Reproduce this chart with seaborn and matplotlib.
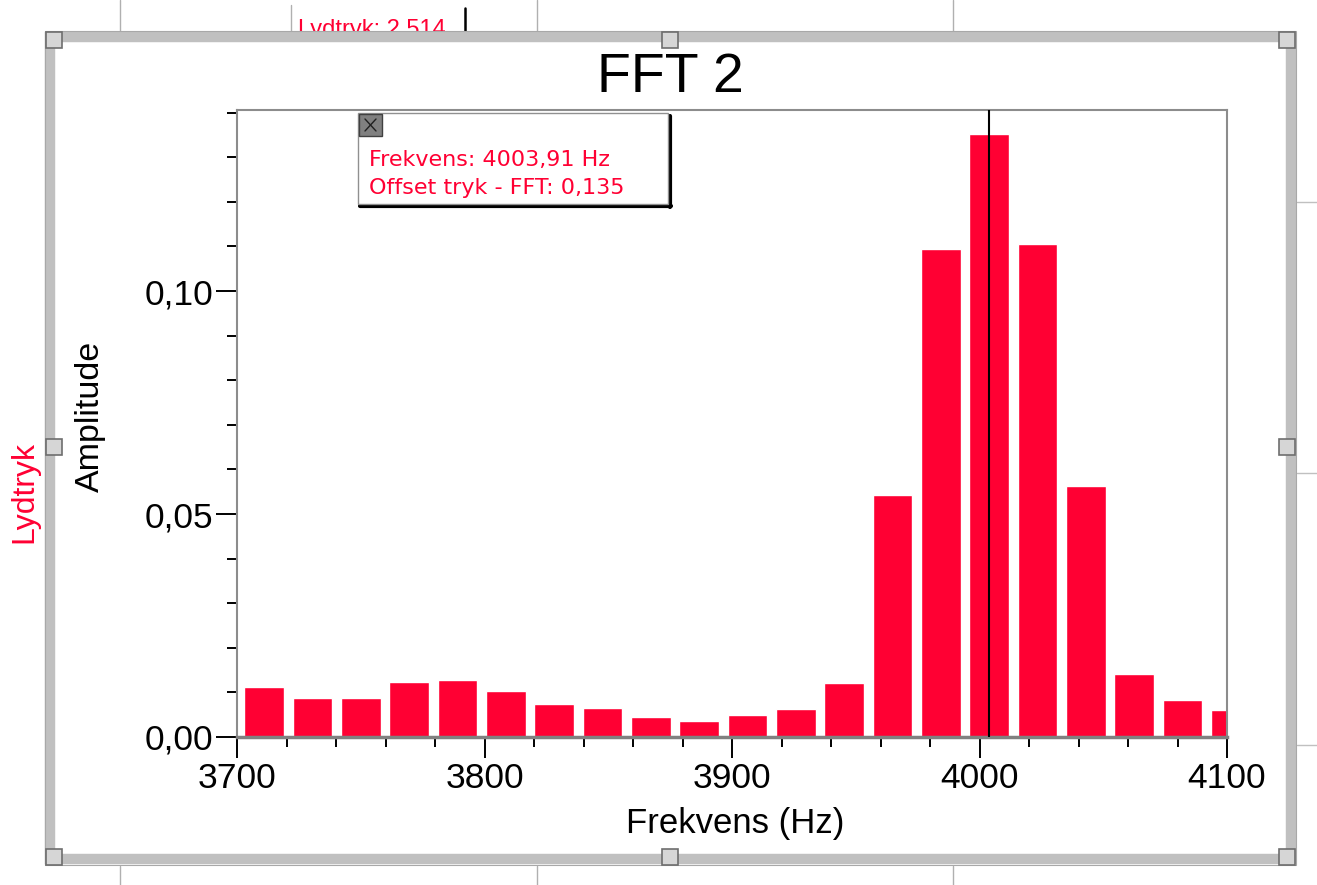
import matplotlib
matplotlib.use("Agg")
import matplotlib.pyplot as plt
from matplotlib.patches import Rectangle
from matplotlib.ticker import MultipleLocator, FixedLocator
import seaborn as sns
import pandas as pd

# FFT bins (Hz) and amplitudes
freqs = [3710.94, 3730.47, 3750.00, 3769.53, 3789.06, 3808.59, 3828.13,
         3847.66, 3867.19, 3886.72, 3906.25, 3925.78, 3945.31, 3964.84,
         3984.38, 4003.91, 4023.44, 4042.97, 4062.50, 4082.03, 4101.56]
amps = [0.0113, 0.0088, 0.0088, 0.0123, 0.0127, 0.0103, 0.0075,
        0.0064, 0.0045, 0.0035, 0.0050, 0.0063, 0.0121, 0.0543,
        0.1095, 0.1352, 0.1105, 0.0562, 0.0142, 0.0083, 0.0060]

x_ticks = [3700, 3800, 3900, 4000, 4100]
x_labels = ["3700", "3800", "3900", "4000", "4100"]
y_ticks = [0.00, 0.05, 0.10]
y_labels = ["0,00", "0,05", "0,10"]

cursor_freq = 4003.91
tip_lines = ["Frekvens: 4003,91 Hz", "Offset tryk - FFT: 0,135"]
title = "FFT 2"
xlabel = "Frekvens (Hz)"
ylabel = "Amplitude"
side_label = "Lydtryk"
top_label = "Lydtryk: 2,514"

red = "#FF0033"
W, H = 1317, 885

sns.set_theme(style="white")
plt.rcParams["font.family"] = ["Liberation Sans", "DejaVu Sans"]
plt.rcParams["text.color"] = "black"

fig = plt.figure(figsize=(W / 100, H / 100), dpi=100)
fig.patch.set_facecolor("white")

ax = fig.add_axes([237 / W, 1 - 737 / H, 990 / W, 627 / H])
df = pd.DataFrame({"freq": freqs, "amp": amps})
sns.barplot(data=df, x="freq", y="amp", native_scale=True, width=0.82,
            color=red, saturation=1, errorbar=None, ax=ax, zorder=2)
ax.axvline(cursor_freq, color="black", lw=1.5, zorder=3)

ax.set_xlim(3700, 4100)
ax.set_ylim(0, 0.1406)
ax.xaxis.set_major_locator(FixedLocator(x_ticks))
ax.set_xticklabels(x_labels)
ax.xaxis.set_minor_locator(MultipleLocator(20))
ax.yaxis.set_major_locator(FixedLocator(y_ticks))
ax.set_yticklabels(y_labels)
ax.yaxis.set_minor_locator(MultipleLocator(0.01))
ax.set_xlabel("")
ax.set_ylabel("")
ax.tick_params(which="both", direction="out", color="black", width=1.4,
               labelsize=25.5, labelcolor="black")
ax.tick_params(which="major", length=15)
ax.tick_params(which="minor", length=7)
ax.tick_params(axis="x", which="major", pad=3)
ax.tick_params(axis="y", which="major", pad=2)
ax.tick_params(axis="x", which="both", bottom=True)
ax.tick_params(axis="y", which="both", left=True)
for side in ["top", "right", "left"]:
    ax.spines[side].set_color("#8c8c8c")
    ax.spines[side].set_linewidth(1.5)
ax.spines["bottom"].set_color("#808080")
ax.spines["bottom"].set_linewidth(2.5)

fig.text(670 / W, 1 - 78 / H, title, ha="center", va="center", fontsize=40,
         color="black")
fig.text(735 / W, 1 - 823 / H, xlabel, ha="center", va="center", fontsize=25,
         color="black")
fig.text(90 / W, 1 - 416 / H, ylabel, ha="center", va="center",
         rotation=90, fontsize=24.5, color="black")
fig.text(24 / W, 1 - 492 / H, side_label, ha="center", va="center",
         rotation=90, fontsize=23, color=red)

# overlay in pixel coordinates for the window frame and the readout box
ov = fig.add_axes([0, 0, 1, 1])
ov.set_xlim(0, W)
ov.set_ylim(H, 0)
ov.axis("off")
ov.patch.set_alpha(0)

# background graph remnants
for gx in [120, 537, 953]:
    ov.plot([gx, gx], [0, 31], color="#b0b0b0", lw=1)
    ov.plot([gx, gx], [866, 885], color="#b0b0b0", lw=1)
for gy in [202, 473, 745]:
    ov.plot([1297, 1317], [gy, gy], color="#c0c0c0", lw=1)
ov.plot([291, 291], [5, 31], color="#b0b0b0", lw=1)
ov.plot([465, 465], [8, 31], color="black", lw=1.8)
ov.text(298, 36, top_label, fontsize=17, color=red, ha="left",
        va="baseline")

# window frame
ov.add_patch(Rectangle((49.5, 36.5), 1241, 822.5, fill=False,
                       edgecolor="#c0c0c0", lw=7.5, zorder=5))
ov.add_patch(Rectangle((45, 31), 1251, 834, fill=False,
                       edgecolor="#a8a8a8", lw=0.8, zorder=5))
for hx in [54, 670, 1287]:
    for hy in [40, 447, 857]:
        if hx == 670 and hy == 447:
            continue
        ov.add_patch(Rectangle((hx - 8, hy - 8), 16, 16, facecolor="#d6d6d6",
                               edgecolor="#6e6e6e", lw=1.2, zorder=6))

# readout box
ov.plot([670, 670], [116, 207], color="black", lw=3, zorder=6)
ov.plot([360, 671], [206, 206], color="black", lw=3, zorder=6)
ov.add_patch(Rectangle((358, 113), 310, 91, facecolor="white",
                       edgecolor="#909090", lw=1, zorder=6))
ov.add_patch(Rectangle((359, 114), 23, 22, facecolor="#808080",
                       edgecolor="#404040", lw=1, zorder=7))
ov.plot([365, 376], [119, 131], color="#202020", lw=1, zorder=8)
ov.plot([365, 376], [131, 119], color="#202020", lw=1, zorder=8)
ov.text(369, 160, tip_lines[0], fontsize=16, color=red, va="center",
        ha="left", family="DejaVu Sans", zorder=8)
ov.text(369, 188, tip_lines[1], fontsize=16, color=red, va="center",
        ha="left", family="DejaVu Sans", zorder=8)

fig.savefig("out.png", dpi=100, facecolor="white")
